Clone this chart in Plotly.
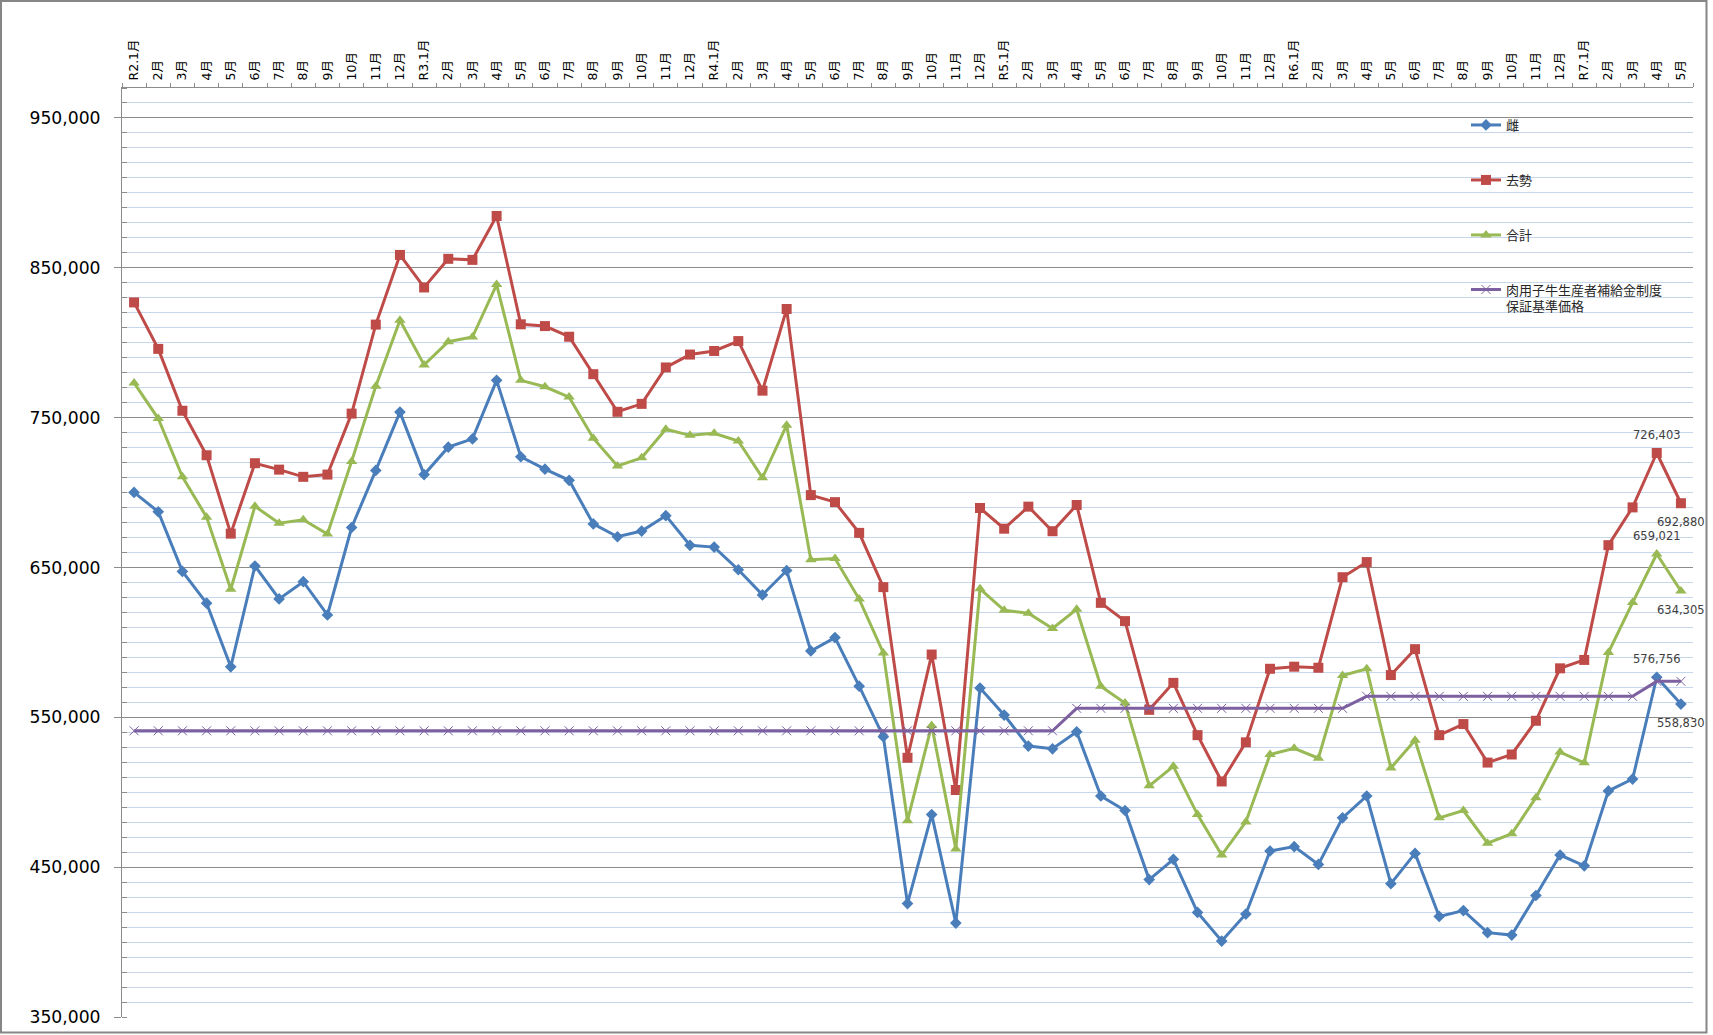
import plotly.graph_objects as go

# ---------------- data ----------------
years = [2, 3, 4, 5, 6, 7]
months_per_year = [12, 12, 12, 12, 12, 5]

cat_keys = []
tick_labels = []
for yr, nm in zip(years, months_per_year):
    for m in range(1, nm + 1):
        cat_keys.append(f"R{yr}-{m:02d}")
        tick_labels.append(f"R{yr}.1月" if m == 1 else f"{m}月")

female = [  # 雌
    700100, 687200, 647400, 626200, 583700, 651000, 629000, 640500, 618300, 676700, 714800, 753700,
    712000, 730300, 735800, 774900, 723900, 715600, 708200, 679100, 670500, 674300, 684600, 664800,
    663600, 648500, 631700, 648000, 594300, 603200, 570800, 537100, 425700, 485100, 412700, 569500,
    551500, 530800, 529000, 540300, 497500, 487800, 441700, 455200, 419800, 400700, 418700, 460800,
    463700, 451800, 482900, 497500, 439000, 459200, 417100, 421000, 406300, 404700, 431100, 458100,
    450900, 500900, 508800, 576756, 558830,
]
castrated = [  # 去勢
    826900, 795900, 754600, 724900, 672600, 719600, 715300, 710500, 712000, 752700, 812100, 858600,
    836900, 856000, 855300, 884600, 812300, 811100, 804000, 779000, 753900, 759200, 783500, 792100,
    794500, 801100, 768000, 822500, 698300, 693600, 673100, 636900, 523000, 591900, 501500, 689700,
    675900, 690600, 674200, 691700, 626400, 614200, 555000, 573000, 538100, 507200, 533300, 582400,
    583800, 583100, 643500, 653600, 578200, 595500, 538100, 545500, 519800, 525200, 547700, 582700,
    588300, 664900, 690100, 726403, 692880,
]
total = [  # 合計
    773200, 749400, 710500, 683600, 635500, 690800, 679600, 681900, 672400, 720800, 770900, 815000,
    785200, 800700, 803800, 838800, 774900, 770600, 763700, 736300, 717700, 723200, 742300, 738200,
    739600, 734400, 709900, 745000, 655200, 656000, 628900, 593000, 481000, 544600, 462200, 635800,
    621400, 619500, 609300, 622100, 570700, 559500, 504300, 517300, 485100, 458100, 480200, 525200,
    529300, 522700, 577900, 582400, 516200, 534700, 482900, 487800, 466000, 472300, 496400, 526800,
    519600, 593200, 626600, 659021, 634305,
]
guarantee = [  # 肉用子牛生産者補給金制度 保証基準価格
    541000, 541000, 541000, 541000, 541000, 541000, 541000, 541000, 541000, 541000, 541000, 541000,
    541000, 541000, 541000, 541000, 541000, 541000, 541000, 541000, 541000, 541000, 541000, 541000,
    541000, 541000, 541000, 541000, 541000, 541000, 541000, 541000, 541000, 541000, 541000, 541000,
    541000, 541000, 541000, 556000, 556000, 556000, 556000, 556000, 556000, 556000, 556000, 556000,
    556000, 556000, 556000, 564000, 564000, 564000, 564000, 564000, 564000, 564000, 564000, 564000,
    564000, 564000, 564000, 574000, 574000,
]

series_names = ["雌", "去勢", "合計", "肉用子牛生産者補給金制度<br>保証基準価格"]

# ---------------- layout geometry (pixels) ----------------
W, H = 1713, 1035
L, R, T, B = 122, 20, 88, 18
PW, PH = W - L - R, H - T - B


def px_x(x):
    return (x - L) / PW


def px_y(y):
    return (H - B - y) / PH


fig = go.Figure()

fig.add_trace(go.Scatter(
    x=cat_keys, y=female, name=series_names[0], mode="lines+markers",
    line=dict(color="#4A7EBB", width=3),
    marker=dict(symbol="diamond", size=9, color="#4A7EBB"),
    cliponaxis=False, legend="legend",
))
fig.add_trace(go.Scatter(
    x=cat_keys, y=castrated, name=series_names[1], mode="lines+markers",
    line=dict(color="#BE4B48", width=3),
    marker=dict(symbol="square", size=10, color="#BE4B48"),
    cliponaxis=False, legend="legend2",
))
fig.add_trace(go.Scatter(
    x=cat_keys, y=total, name=series_names[2], mode="lines+markers",
    line=dict(color="#98B954", width=3),
    marker=dict(symbol="triangle-up", size=10, color="#98B954"),
    cliponaxis=False, legend="legend3",
))
fig.add_trace(go.Scatter(
    x=cat_keys, y=guarantee, name=series_names[3], mode="lines+markers",
    line=dict(color="#7D60A0", width=3),
    marker=dict(symbol="x-thin", size=9, line=dict(color="#7D60A0", width=1)),
    cliponaxis=False, legend="legend4",
))

# data labels on the last two points of the three price series
label_font = dict(family="DejaVu Sans", size=11.5, color="#404040")
for vals in (female, castrated, total):
    for idx, shift in ((len(vals) - 2, 18), (len(vals) - 1, -19)):
        fig.add_annotation(
            x=cat_keys[idx], y=vals[idx], xref="x", yref="y",
            text=f"{vals[idx]:,}", showarrow=False, yshift=shift,
            font=label_font, xanchor="center", yanchor="middle",
        )

legend_common = dict(
    xanchor="left", yanchor="middle", bgcolor="rgba(0,0,0,0)", borderwidth=0,
    font=dict(family="Noto Sans CJK JP", size=13, color="#262626"), itemwidth=30,
)

fig.update_layout(
    width=W, height=H,
    margin=dict(l=L, r=R, t=T, b=B, autoexpand=False),
    paper_bgcolor="white", plot_bgcolor="white",
    showlegend=True,
    legend=dict(x=px_x(1466), y=px_y(125), **legend_common),
    legend2=dict(x=px_x(1466), y=px_y(180), **legend_common),
    legend3=dict(x=px_x(1466), y=px_y(235), **legend_common),
    legend4=dict(x=px_x(1466), y=px_y(298), valign="top", **legend_common),
    xaxis=dict(
        type="category", categoryorder="array", categoryarray=cat_keys,
        tickmode="array", tickvals=cat_keys, ticktext=tick_labels,
        tickson="boundaries", side="top", tickangle=-90,
        ticks="outside", ticklen=4, tickcolor="#8C8C8C",
        showline=True, linecolor="#8C8C8C", linewidth=1,
        showgrid=False, zeroline=False, automargin=False,
        range=[-0.5, len(cat_keys) - 0.5], ticklabelstandoff=4,
        tickfont=dict(family="DejaVu Sans, Noto Sans CJK JP", size=12.5, color="#000000"),
    ),
    yaxis=dict(
        range=[350000, 970000], tick0=350000, dtick=100000, tickformat=",",
        showgrid=True, gridcolor="#8C8C8C", gridwidth=1,
        showline=True, linecolor="#8C8C8C", linewidth=1,
        ticks="outside", ticklen=7, tickcolor="#8C8C8C",
        zeroline=False, automargin=False, ticklabelstandoff=10,
        tickfont=dict(family="DejaVu Sans", size=17.2, color="#000000"),
        minor=dict(dtick=10000, tick0=350000, showgrid=True, gridcolor="#C6D6EC",
                   gridwidth=1, ticks="inside", ticklen=5, tickcolor="#8C8C8C"),
    ),
)

# chart outer border
fig.add_shape(
    type="rect", xref="paper", yref="paper",
    x0=px_x(1), x1=px_x(1706.5), y0=px_y(1032.5), y1=px_y(1),
    line=dict(color="#868686", width=2), fillcolor="rgba(0,0,0,0)", layer="above",
)

fig.write_html(
    "out.html",
    config={"displayModeBar": False},
    post_script="document.body.style.margin='0';document.body.style.overflow='hidden';",
)
